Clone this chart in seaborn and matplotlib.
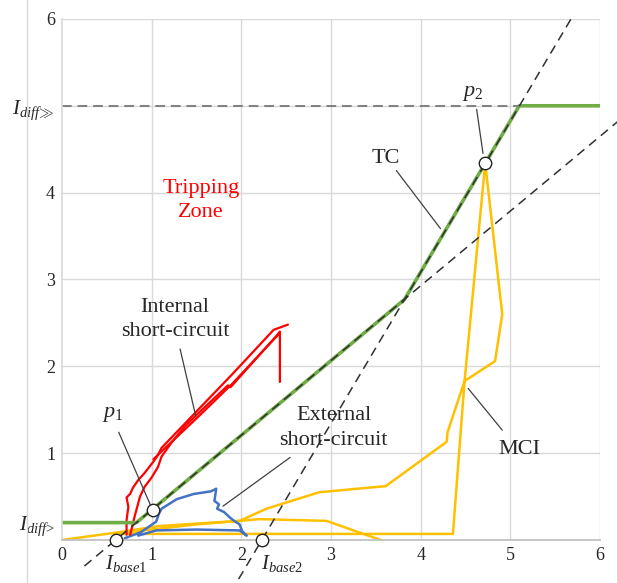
import seaborn as sns
import matplotlib.pyplot as plt
from matplotlib.lines import Line2D

# trip characteristic (TC)
tc_x = [0.0, 0.83, 3.82, 5.10, 6.0]
tc_y = [0.2, 0.2, 2.77, 5.0, 5.0]

# dashed slope lines through I_base1 and I_base2
slope1_x = [0.25, 6.2]
slope1_y = [-0.30, 4.82]
slope2_x = [1.97, 5.70]
slope2_y = [-0.45, 6.04]
idiff_hi_x = [0.0, 5.10]
idiff_hi_y = [5.0, 5.0]

# marked points p1, p2, I_base1, I_base2
pts_x = [1.02, 4.72, 0.60, 2.23]
pts_y = [0.35, 4.34, 0.0, 0.0]

# internal short-circuit (three strands)
red1_x = [0.72, 0.72, 0.74, 0.72, 0.76, 0.79, 0.85, 0.92, 1.01, 1.06, 1.11, 1.50, 1.90, 2.36, 2.52]
red1_y = [0.06, 0.23, 0.38, 0.49, 0.53, 0.60, 0.69, 0.77, 0.89, 0.96, 1.06, 1.48, 1.91, 2.42, 2.48]
red2_x = [0.76, 0.81, 0.87, 0.92, 1.00, 1.07, 1.11, 1.22, 1.37, 1.50, 1.85, 1.88, 2.40, 2.43, 2.43]
red2_y = [0.06, 0.27, 0.50, 0.61, 0.72, 0.84, 0.96, 1.12, 1.31, 1.44, 1.78, 1.76, 2.36, 2.40, 1.82]
red3_x = [1.02, 1.10, 1.50, 1.90, 2.38, 2.43]
red3_y = [0.93, 1.01, 1.40, 1.80, 2.33, 2.38]

# external short-circuit
blue_x = [0.70, 0.88, 1.05, 1.08, 1.11, 1.28, 1.47, 1.66, 1.72, 1.70, 1.75, 1.73, 1.81, 1.87,
          1.92, 1.98, 2.01, 2.06, 1.98, 1.50, 1.05, 0.85]
blue_y = [0.02, 0.09, 0.21, 0.30, 0.36, 0.47, 0.53, 0.56, 0.59, 0.45, 0.41, 0.36, 0.32, 0.26,
          0.22, 0.18, 0.10, 0.05, 0.11, 0.12, 0.11, 0.05]

# MCI (magnetising current inrush)
mci_x = [0.0, 0.64, 1.08, 1.98, 2.28, 2.87, 3.61, 4.29, 4.30, 4.49, 4.83, 4.91, 4.72,
         4.49, 4.36, 0.58]
mci_y = [0.0, 0.09, 0.16, 0.22, 0.36, 0.55, 0.62, 1.13, 1.24, 1.83, 2.06, 2.60, 4.34,
         1.83, 0.07, 0.07]
mci2_x = [0.65, 1.50, 1.98, 2.20, 2.95, 3.58]
mci2_y = [0.08, 0.18, 0.22, 0.24, 0.22, -0.01]

x_ticks = [0, 1, 2, 3, 4, 5, 6]
y_ticks = [0.2, 1, 2, 3, 4, 5, 6]
y_labels = ['$I_{diff\\!>}$', '1', '2', '3', '4', '$I_{diff\\!\\gg}$', '6']

sns.set_theme(style='white')
plt.rcParams['font.family'] = ['Liberation Serif', 'DejaVu Serif']
plt.rcParams['mathtext.fontset'] = 'custom'
plt.rcParams['mathtext.rm'] = 'Liberation Serif'
plt.rcParams['mathtext.it'] = 'Liberation Serif:italic'

fig = plt.figure(figsize=(6.17, 5.83), dpi=100)
ax = fig.add_axes([0.1005, 0.0738, 0.8719, 0.8937])
fig.add_artist(Line2D([27 / 617, 27 / 617], [0, 1], color='#D9D9D9', lw=1))

grid_c = '#D9D9D9'
for v in range(1, 7):
    ax.axhline(v, color=grid_c, lw=1, zorder=0)
    ax.axvline(v, color=grid_c, lw=1, zorder=0)


def draw(xs, ys, **kw):
    sns.lineplot(x=xs, y=ys, sort=False, estimator=None, ax=ax, **kw)
    return ax.lines[-1]


draw(mci_x, mci_y, color='#FFC000', lw=1.8)
draw(mci2_x, mci2_y, color='#FFC000', lw=1.8)
draw(blue_x, blue_y, color='#4472C4', lw=1.8)
for rx, ry in [(red1_x, red1_y), (red2_x, red2_y), (red3_x, red3_y)]:
    draw(rx, ry, color='#FF0000', lw=1.6)
draw(tc_x, tc_y, color='#70AD47', lw=2.6)
draw(idiff_hi_x, idiff_hi_y, color='#7F7F7F', lw=1.4).set_dashes((5, 3))
l1 = draw(slope1_x, slope1_y, color='#303030', lw=1.1)
l1.set_dashes((6, 4))
l1.set_clip_on(False)
l2 = draw(slope2_x, slope2_y, color='#303030', lw=1.1)
l2.set_dashes((6, 4))
l2.set_clip_on(False)

sns.scatterplot(x=pts_x, y=pts_y, s=80, facecolor='white', edgecolor='#222222',
                linewidth=1.0, zorder=5, ax=ax, clip_on=False)

fs = 16
leader = dict(arrowstyle='-', color='#404040', lw=0.9)
ax.text(1.55, 3.91, 'Tripping\nZone', color='#FF0000', fontsize=fs, ha='center',
        va='center', linespacing=1.4)
ax.text(1.26, 2.54, 'Internal\nshort-circuit', fontsize=fs, ha='center', va='center',
        linespacing=1.4)
ax.annotate('', xy=(1.50, 1.39), xytext=(1.31, 2.23), arrowprops=leader)
ax.text(3.03, 1.29, 'External\nshort-circuit', fontsize=fs, ha='center', va='center',
        linespacing=1.4)
ax.annotate('', xy=(1.77, 0.37), xytext=(2.57, 0.97), arrowprops=leader)
ax.text(3.61, 4.39, 'TC', fontsize=fs, ha='center', va='center')
ax.annotate('', xy=(4.24, 3.56), xytext=(3.71, 4.28), arrowprops=leader)
ax.text(5.10, 1.04, 'MCI', fontsize=fs, ha='center', va='center')
ax.annotate('', xy=(4.51, 1.77), xytext=(4.93, 1.24), arrowprops=leader)
ax.text(4.58, 5.14, '$p_2$', fontsize=fs, ha='center', va='center')
ax.annotate('', xy=(4.70, 4.42), xytext=(4.62, 4.99), arrowprops=leader)
ax.text(0.56, 1.45, '$p_1$', fontsize=fs, ha='center', va='center')
ax.annotate('', xy=(1.00, 0.37), xytext=(0.62, 1.27), arrowprops=leader)
ax.text(0.71, -0.27, '$I_{base1}$', fontsize=15, ha='center', va='center')
ax.text(2.46, -0.27, '$I_{base2}$', fontsize=15, ha='center', va='center')

ax.set_xlim(0, 6)
ax.set_ylim(0, 6)
ax.set_xticks(x_ticks)
ax.set_xticklabels([str(v) for v in x_ticks], fontsize=13)
ax.set_yticks(y_ticks)
ax.set_yticklabels(y_labels, fontsize=13)
for t in ax.get_yticklabels():
    if 'I' in t.get_text():
        t.set_fontsize(15)
ax.tick_params(length=0, pad=5)
for s in ['top', 'right']:
    ax.spines[s].set_visible(False)
ax.spines['left'].set_color(grid_c)
ax.spines['bottom'].set_color('#BFBFBF')

fig.savefig('out.png', dpi=100)
